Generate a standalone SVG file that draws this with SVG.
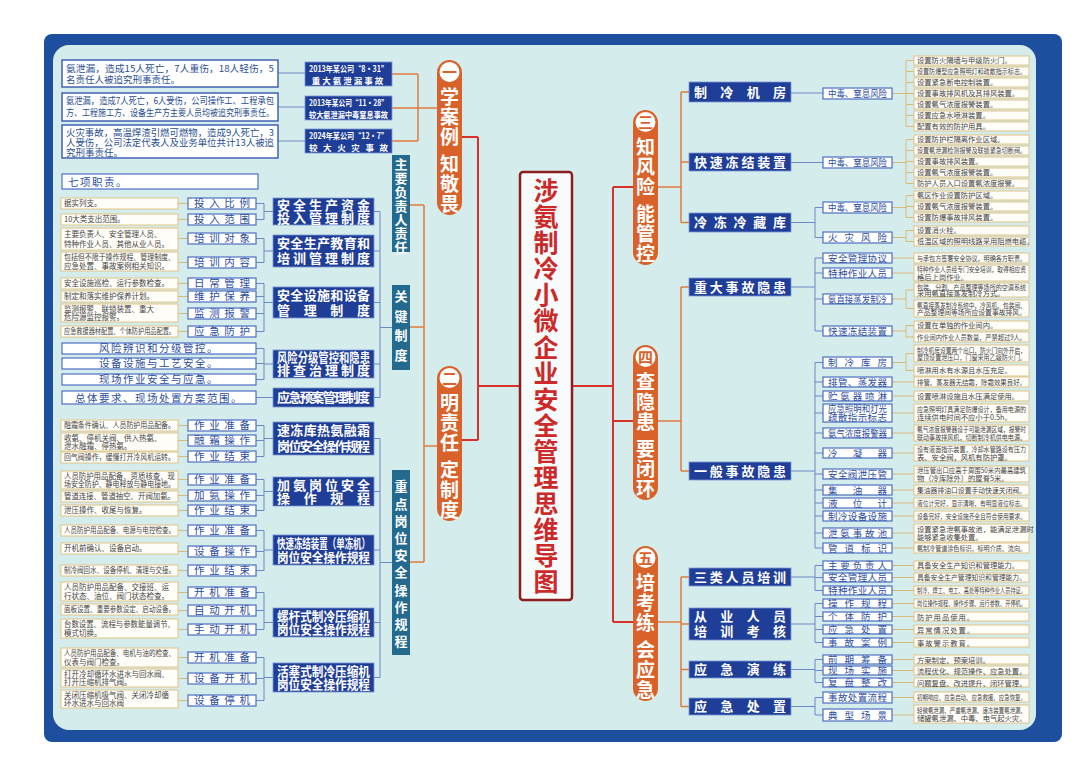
<svg xmlns="http://www.w3.org/2000/svg" width="1080" height="772" viewBox="0 0 1080 772">
<style>
text{font-family:"Noto Sans CJK SC","Noto Sans",sans-serif}
.v{writing-mode:vertical-rl;text-anchor:start}
.mb{fill:#1f3e97;stroke:#7a97d6;stroke-width:.8}
.mt{fill:#fff;font-size:13px;font-weight:700}
.sb{fill:#fff;stroke:#4d6ec2;stroke-width:1.2}
.st{fill:#2c4da0;font-size:10.5px}
.rs{fill:#2c4da0;font-size:9.5px}
.lb{fill:#fffdf8;stroke:#e2c487;stroke-width:1}
.lt{fill:#444;font-size:7.5px}
.rt{fill:#444;font-size:7.3px}
.cb{fill:#fff;stroke:#4262b3;stroke-width:1.5}
.ct{fill:#2a4f92;font-size:9.5px}
.cht{fill:#fff;font-size:8.5px;font-weight:700}
.tb{fill:#236a8e}
.tt{fill:#fff;font-size:13px;font-weight:700}
.pl{fill:#d9622a}
.pt{fill:#fff;font-size:19px;font-weight:700;letter-spacing:1px}
.pn{fill:#d9622a;font-size:15px;font-weight:700}
.wt{fill:#2c4da0;font-size:10.5px;letter-spacing:1.5px}
.cn{fill:none;stroke:#6d88c2;stroke-width:1}
.tn{fill:none;stroke:#d8b978;stroke-width:1}
.on{fill:none;stroke:#e07b3c;stroke-width:1.5}
.rn{fill:none;stroke:#d9302a;stroke-width:2}
</style>
<rect x="0" y="0" width="1080" height="772" fill="#fff"/>
<rect x="44" y="34" width="1018" height="708" rx="8" fill="#1d4f9e"/>
<rect x="53" y="45" width="983" height="685" rx="16" fill="#d5ecec"/>

<g id="connectors">
<path class="rn" d="M520,386 H478 M478,137 V440 M478,137 H462 M478,440 H462"/>
<path class="rn" d="M572,386 H613 M613,187 V622 M613,187 H633 M613,421 H633 M613,622 H633"/>
<path class="on" d="M437,108 H418 M418,74 V141 M418,74 H392 M418,108 H392 M418,141 H392"/>
<path class="cn" d="M278,73 H305 M278,107 H305 M278,141 H305"/>
<path class="on" d="M437,446 H424 M424,205 V562 M424,205 H410 M424,327 H410 M424,562 H410"/>
<path class="on" d="M657,187 H681 M681,92 V222.5 M681,92 H689 M681,162 H689 M681,222.5 H689"/>
<path class="on" d="M657,421 H681 M681,287 V471 M681,287 H689 M681,471 H689"/>
<path class="on" d="M657,622 H681 M681,577 V706.5 M681,577 H689 M681,624 H689 M681,669.5 H689 M681,706.5 H689"/>
<path class="cn" d="M392,327.5 H380 M380,211.5 V397.5 M380,211.5 H374 M380,251 H374 M380,302.5 H374 M380,364 H374 M380,397.5 H374"/>
<path class="cn" d="M392,562.5 H380 M380,438.5 V677.5 M380,438.5 H374 M380,491.5 H374 M380,550 H374 M380,622.5 H374 M380,677.5 H374"/>
<path class="cn" d="M273,211.5 H264 M264,203.5 V219.5 M264,203.5 H256 M264,219.5 H256
M273,251 H264 M264,238.5 V262.5 M264,238.5 H256 M264,262.5 H256
M273,302.5 H264 M264,283.5 V331.5 M264,283.5 H256 M264,296.5 H256 M264,313.5 H256 M264,331.5 H256
M273,364 H264 M264,348.5 V379.5 M264,348.5 H256 M264,363.5 H256 M264,379.5 H256
M273,397.5 H256
M273,438.5 H264 M264,425.5 V456.5 M264,425.5 H256 M264,440.5 H256 M264,456.5 H256
M273,491.5 H264 M264,479.5 V510.5 M264,479.5 H256 M264,495.5 H256 M264,510.5 H256
M273,550 H264 M264,530.5 V570.5 M264,530.5 H256 M264,551.5 H256 M264,570.5 H256
M273,622.5 H264 M264,592.5 V629.5 M264,592.5 H256 M264,610.5 H256 M264,629.5 H256
M273,677.5 H264 M264,657.5 V700.5 M264,657.5 H256 M264,678.5 H256 M264,700.5 H256"/>
<path class="tn" d="M178,203.5 H188 M178,219.5 H188 M178,238.5 H188 M178,262.5 H188 M178,283.5 H188 M178,296.5 H188 M178,313.5 H188 M178,331.5 H188 M178,425.5 H188 M178,440.5 H188 M178,456.5 H188 M178,479.5 H188 M178,495.5 H188 M178,510.5 H188 M178,530.5 H188 M178,551.5 H188 M178,570.5 H188 M178,592.5 H188 M178,610.5 H188 M178,629.5 H188 M178,657.5 H188 M178,678.5 H188 M178,700.5 H188"/>
<path class="cn" d="M791,93 H823 M791,162.5 H823
M791,222.5 H815 M815,207.5 V237.5 M815,207.5 H823 M815,237.5 H823
M791,287 H815 M815,258 V331 M815,258 H823 M815,273 H823 M815,299 H823 M815,331 H823
M791,471 H815 M815,362.5 V548 M815,362.5 H823 M815,382 H823 M815,396 H823 M815,413 H823 M815,433 H823 M815,453 H823 M815,474 H823 M815,490 H823 M815,503 H823 M815,516 H823 M815,533 H823 M815,548 H823
M791,577 H815 M815,565.5 V590.5 M815,565.5 H823 M815,577.5 H823 M815,590.5 H823
M791,624 H815 M815,603.5 V642.5 M815,603.5 H823 M815,616.5 H823 M815,629.5 H823 M815,642.5 H823
M791,669.5 H815 M815,659.5 V682.5 M815,659.5 H823 M815,670.5 H823 M815,682.5 H823
M791,706.5 H815 M815,697.5 V715 M815,697.5 H823 M815,715 H823"/>
<path class="tn" d="M892,93.5 H906 M906,60.5 V126.5 M906,60.5 H914 M906,71.5 H914 M906,82.5 H914 M906,93.5 H914 M906,104.5 H914 M906,115.5 H914 M906,126.5 H914
M892,162.5 H906 M906,139.5 V183.5 M906,139.5 H914 M906,150.5 H914 M906,161.5 H914 M906,172.5 H914 M906,183.5 H914
M892,207.5 H906 M906,195.5 V217.5 M906,195.5 H914 M906,206.5 H914 M906,217.5 H914
M892,237.5 H906 M906,230.5 V241.5 M906,230.5 H914 M906,241.5 H914
M892,258 H914 M892,273 H914
M892,299 H906 M906,290 V308.5 M906,290 H914 M906,308.5 H914
M892,331 H906 M906,325.5 V337 M906,325.5 H914 M906,337 H914
M892,362.5 H906 M906,353.5 V370.5 M906,353.5 H914 M906,370.5 H914
M892,382 H914 M892,396 H914 M892,413 H914 M892,433 H914 M892,453 H914 M892,474 H914 M892,490 H914 M892,503 H914 M892,516 H914 M892,533 H914 M892,548 H914
M892,565.5 H914 M892,577.5 H914 M892,590.5 H914
M892,603.5 H914 M892,616.5 H914 M892,629.5 H914 M892,642.5 H914
M892,659.5 H914 M892,670.5 H914 M892,682.5 H914
M892,697.5 H914 M892,715 H914"/>
</g>

<g id="title">
<rect x="520" y="172" width="52" height="428" rx="3" fill="#f7fbfb" stroke="#8e1e1e" stroke-width="2.5"/>
<text class="v" x="546" y="178" fill="#cc2a2a" font-size="25" font-weight="700" letter-spacing="1.1">涉氨制冷小微企业安全管理思维导图</text>
</g>

<g id="pill1">
<rect class="pl" x="437" y="60" width="25" height="155" rx="12.5"/>
<circle cx="449.5" cy="72" r="10" fill="#fff"/>
<text class="pn" x="449.5" y="77.5" text-anchor="middle">一</text>
<text class="pt v" x="449.5" y="87">学案例</text>
<text class="pt v" x="449.5" y="154">知敬畏</text>
</g>
<g id="pill2">
<rect class="pl" x="437" y="366" width="25" height="155" rx="12.5"/>
<circle cx="449.5" cy="378" r="10" fill="#fff"/>
<text class="pn" x="449.5" y="383.5" text-anchor="middle">二</text>
<text class="pt v" x="449.5" y="393">明责任</text>
<text class="pt v" x="449.5" y="460">定制度</text>
</g>
<g id="pill3">
<rect class="pl" x="633" y="110" width="25" height="155" rx="12.5"/>
<circle cx="645.5" cy="122" r="10" fill="#fff"/>
<text class="pn" x="645.5" y="127.5" text-anchor="middle">三</text>
<text class="pt v" x="645.5" y="137">知风险</text>
<text class="pt v" x="645.5" y="204">能管控</text>
</g>
<g id="pill4">
<rect class="pl" x="633" y="345" width="25" height="155" rx="12.5"/>
<circle cx="645.5" cy="357" r="10" fill="#fff"/>
<text class="pn" x="645.5" y="362.5" text-anchor="middle">四</text>
<text class="pt v" x="645.5" y="372">查隐患</text>
<text class="pt v" x="645.5" y="439">要闭环</text>
</g>
<g id="pill5">
<rect class="pl" x="633" y="546" width="25" height="155" rx="12.5"/>
<circle cx="645.5" cy="558" r="10" fill="#fff"/>
<text class="pn" x="645.5" y="563.5" text-anchor="middle">五</text>
<text class="pt v" x="645.5" y="573">培考练</text>
<text class="pt v" x="645.5" y="640">会应急</text>
</g>

<g id="cases">
<rect class="cb" x="62" y="60" width="216" height="27"/>
<text class="ct" x="66" y="71.5" textLength="208" lengthAdjust="spacingAndGlyphs">氨泄漏，造成15人死亡，7人重伤，18人轻伤，5</text>
<text class="ct" x="66" y="83">名责任人被追究刑事责任。</text>
<rect class="cb" x="62" y="93" width="216" height="28"/>
<text class="ct" x="66" y="104" font-size="8.8" textLength="208" lengthAdjust="spacingAndGlyphs">氨泄漏，造成7人死亡，6人受伤，公司操作工、工程承包</text>
<text class="ct" x="66" y="116" font-size="8.8" textLength="208" lengthAdjust="spacingAndGlyphs">方、工程施工方、设备生产方主要人员均被追究刑事责任。</text>
<rect class="cb" x="62" y="125" width="216" height="33"/>
<text class="ct" x="66" y="135.5" textLength="208" lengthAdjust="spacingAndGlyphs">火灾事故，高温焊渣引燃可燃物，造成9人死亡，3</text>
<text class="ct" x="66" y="146" textLength="208" lengthAdjust="spacingAndGlyphs">人受伤，公司法定代表人及业务单位共计13人被追</text>
<text class="ct" x="66" y="156">究刑事责任。</text>
<rect class="mb" x="305" y="62" width="87" height="24"/>
<text class="cht" x="309" y="72" textLength="79" lengthAdjust="spacingAndGlyphs">2013年某公司“8·31”</text>
<text class="cht" x="348.5" y="83.5" text-anchor="middle" letter-spacing="2">重大氨泄漏事故</text>
<rect class="mb" x="305" y="96" width="87" height="24"/>
<text class="cht" x="309" y="106" textLength="79" lengthAdjust="spacingAndGlyphs">2013年某公司“11·28”</text>
<text class="cht" x="309" y="117.5" textLength="79" lengthAdjust="spacingAndGlyphs">较大氨泄漏中毒窒息事故</text>
<rect class="mb" x="305" y="129" width="87" height="24"/>
<text class="cht" x="309" y="139" textLength="79" lengthAdjust="spacingAndGlyphs">2024年某公司“12·7”</text>
<text class="cht" x="309" y="150.5" textLength="79">较大火灾事故</text>
</g>

<g id="duty">
<rect class="tb" x="392" y="155" width="18" height="97"/>
<text class="tt v" x="401" y="158" font-size="12.5" letter-spacing=".8">主要负责人责任</text>
<rect class="sb" x="62" y="174" width="196" height="15"/>
<text class="wt" x="68" y="185.5" letter-spacing="4">七项职责。</text>
</g>

<g id="keysys">
<rect class="tb" x="392" y="285" width="18" height="85"/>
<text class="tt v" x="401" y="290" letter-spacing="6.5">关键制度</text>
</g>

<g id="m1">
<rect class="mb" x="273" y="198" width="101" height="27"/>
<text class="mt" x="277" y="210" textLength="93">安全生产资金</text>
<text class="mt" x="277" y="223" textLength="93">投入管理制度</text>
<rect class="sb" x="188" y="198" width="68" height="11"/><text class="st" x="194" y="207.3" textLength="56">投入比例</text>
<rect class="sb" x="188" y="214" width="68" height="11"/><text class="st" x="194" y="223.3" textLength="56">投入范围</text>
<rect class="lb" x="61" y="198" width="117" height="11"/><text class="lt" x="64" y="206.3">据实列支。</text>
<rect class="lb" x="61" y="214" width="117" height="11"/><text class="lt" x="64" y="222.3">10大类支出范围。</text>
</g>
<g id="m2">
<rect class="mb" x="273" y="235" width="101" height="32"/>
<text class="mt" x="277" y="248" textLength="93">安全生产教育和</text>
<text class="mt" x="277" y="263" textLength="93">培训管理制度</text>
<rect class="sb" x="188" y="233" width="68" height="11"/><text class="st" x="194" y="242.3" textLength="56">培训对象</text>
<rect class="sb" x="188" y="257" width="68" height="11"/><text class="st" x="194" y="266.3" textLength="56">培训内容</text>
<rect class="lb" x="61" y="228" width="117" height="22"/><text class="lt" x="64" y="237">主要负责人、安全管理人员、</text><text class="lt" x="64" y="246.5">特种作业人员、其他从业人员。</text>
<rect class="lb" x="61" y="252" width="117" height="19"/><text class="lt" x="64" y="260" textLength="111" lengthAdjust="spacingAndGlyphs">包括但不限于操作规程、管理制度、</text><text class="lt" x="64" y="268.5">应急处置、事故案例相关知识。</text>
</g>
<g id="m3">
<rect class="mb" x="273" y="287" width="101" height="31"/>
<text class="mt" x="277" y="300" textLength="93">安全设施和设备</text>
<text class="mt" x="277" y="315" textLength="93">管理制度</text>
<rect class="sb" x="188" y="278" width="68" height="11"/><text class="st" x="194" y="287.3" textLength="56">日常管理</text>
<rect class="sb" x="188" y="291" width="68" height="11"/><text class="st" x="194" y="300.3" textLength="56">维护保养</text>
<rect class="sb" x="188" y="308" width="68" height="11"/><text class="st" x="194" y="317.3" textLength="56">监测报警</text>
<rect class="sb" x="188" y="326" width="68" height="11"/><text class="st" x="194" y="335.3" textLength="56">应急防护</text>
<rect class="lb" x="61" y="278" width="117" height="11"/><text class="lt" x="64" y="286.3">安全设施巡检、运行参数检查。</text>
<rect class="lb" x="61" y="291" width="117" height="11"/><text class="lt" x="64" y="299.3">制定和落实维护保养计划。</text>
<rect class="lb" x="61" y="304" width="117" height="18"/><text class="lt" x="64" y="312">监测报警、联锁装置、重大</text><text class="lt" x="64" y="320">危险源监控报警。</text>
<rect class="lb" x="61" y="326" width="117" height="11"/><text class="lt" x="64" y="334.3" textLength="111" lengthAdjust="spacingAndGlyphs">应急救援器材配置、个体防护用品配置。</text>
</g>
<g id="m4">
<rect class="mb" x="273" y="350" width="101" height="28"/>
<text class="mt" x="277" y="362" font-size="11.5" textLength="93" lengthAdjust="spacingAndGlyphs">风险分级管控和隐患</text>
<text class="mt" x="277" y="375" font-size="12" textLength="93">排查治理制度</text>
<rect class="sb" x="62" y="343" width="194" height="11"/><text class="wt" x="159" y="352.3" text-anchor="middle">风险辨识和分级管控。</text>
<rect class="sb" x="62" y="358" width="194" height="11"/><text class="wt" x="159" y="367.3" text-anchor="middle">设备设施与工艺安全。</text>
<rect class="sb" x="62" y="374" width="194" height="11"/><text class="wt" x="159" y="383.3" text-anchor="middle">现场作业安全与应急。</text>
</g>
<g id="m5">
<rect class="mb" x="273" y="388" width="101" height="19"/>
<text class="mt" x="277" y="401.5" font-size="11.5" textLength="93">应急预案管理制度</text>
<rect class="sb" x="62" y="391" width="194" height="13"/><text class="wt" x="159" y="401.5" text-anchor="middle">总体要求、现场处置方案范围。</text>
</g>

<g id="keypost">
<rect class="tb" x="392" y="470" width="18" height="185"/>
<text class="tt v" x="401" y="480" letter-spacing="4.2">重点岗位安全操作规程</text>
</g>
<g id="m6">
<rect class="mb" x="273" y="422" width="101" height="33"/>
<text class="mt" x="277" y="435" textLength="93">速冻库热氨融霜</text>
<text class="mt" x="277" y="451" textLength="93">岗位安全操作规程</text>
<rect class="sb" x="188" y="420" width="68" height="11"/><text class="st" x="194" y="429.3" textLength="56">作业准备</text>
<rect class="sb" x="188" y="435" width="68" height="11"/><text class="st" x="194" y="444.3" textLength="56">融霜操作</text>
<rect class="sb" x="188" y="451" width="68" height="11"/><text class="st" x="194" y="460.3" textLength="56">作业结束</text>
<rect class="lb" x="61" y="420" width="117" height="11"/><text class="lt" x="64" y="428.3" textLength="111" lengthAdjust="spacingAndGlyphs">融霜条件确认、人员防护用品配备。</text>
<rect class="lb" x="61" y="433" width="117" height="18"/><text class="lt" x="64" y="441">收氨、停机关阀、供入热氨、</text><text class="lt" x="64" y="449">泄水融霜、停热氨。</text>
<rect class="lb" x="61" y="452" width="117" height="11"/><text class="lt" x="64" y="460.3" textLength="111" lengthAdjust="spacingAndGlyphs">回气阀操作，缓慢打开冷风机运转。</text>
</g>
<g id="m7">
<rect class="mb" x="273" y="477" width="101" height="29"/>
<text class="mt" x="277" y="489.5" textLength="93">加氨岗位安全</text>
<text class="mt" x="277" y="503" textLength="93">操作规程</text>
<rect class="sb" x="188" y="474" width="68" height="11"/><text class="st" x="194" y="483.3" textLength="56">作业准备</text>
<rect class="sb" x="188" y="490" width="68" height="11"/><text class="st" x="194" y="499.3" textLength="56">加氨操作</text>
<rect class="sb" x="188" y="505" width="68" height="11"/><text class="st" x="194" y="514.3" textLength="56">作业结束</text>
<rect class="lb" x="61" y="471" width="117" height="18"/><text class="lt" x="64" y="479" textLength="111" lengthAdjust="spacingAndGlyphs">人员防护用品配备、资质核查、现</text><text class="lt" x="64" y="487" textLength="111" lengthAdjust="spacingAndGlyphs">场安全防护、静电释放与静电接地。</text>
<rect class="lb" x="61" y="491" width="117" height="11"/><text class="lt" x="64" y="499.3" textLength="111" lengthAdjust="spacingAndGlyphs">管道连接、管道抽空、开阀加氨。</text>
<rect class="lb" x="61" y="505" width="117" height="11"/><text class="lt" x="64" y="513.3">泄压操作、收尾与恢复。</text>
</g>
<g id="m8">
<rect class="mb" x="273" y="535" width="101" height="30"/>
<text class="mt" x="277" y="547.5" font-size="10" textLength="93" lengthAdjust="spacingAndGlyphs">快速冻结装置（单冻机）</text>
<text class="mt" x="277" y="561.5" font-size="12" textLength="93" lengthAdjust="spacingAndGlyphs">岗位安全操作规程</text>
<rect class="sb" x="188" y="525" width="68" height="11"/><text class="st" x="194" y="534.3" textLength="56">作业准备</text>
<rect class="sb" x="188" y="546" width="68" height="11"/><text class="st" x="194" y="555.3" textLength="56">设备操作</text>
<rect class="sb" x="188" y="565" width="68" height="11"/><text class="st" x="194" y="574.3" textLength="56">作业结束</text>
<rect class="lb" x="61" y="525" width="117" height="11"/><text class="lt" x="64" y="533.3" textLength="111" lengthAdjust="spacingAndGlyphs">人员防护用品配备、电源与电控检查。</text>
<rect class="lb" x="61" y="543" width="117" height="11"/><text class="lt" x="64" y="551.3">开机前确认、设备启动。</text>
<rect class="lb" x="61" y="565" width="117" height="11"/><text class="lt" x="64" y="573.3" textLength="111" lengthAdjust="spacingAndGlyphs">制冷阀回水、设备停机、清理与交接。</text>
</g>
<g id="m9">
<rect class="mb" x="273" y="608" width="101" height="29"/>
<text class="mt" x="277" y="620.5" font-size="12" textLength="93" lengthAdjust="spacingAndGlyphs">螺杆式制冷压缩机</text>
<text class="mt" x="277" y="634" font-size="12" textLength="93" lengthAdjust="spacingAndGlyphs">岗位安全操作规程</text>
<rect class="sb" x="188" y="587" width="68" height="11"/><text class="st" x="194" y="596.3" textLength="56">开机准备</text>
<rect class="sb" x="188" y="605" width="68" height="11"/><text class="st" x="194" y="614.3" textLength="56">自动开机</text>
<rect class="sb" x="188" y="624" width="68" height="11"/><text class="st" x="194" y="633.3" textLength="56">手动开机</text>
<rect class="lb" x="61" y="582" width="117" height="19"/><text class="lt" x="64" y="590">人员防护用品配备、交接班、运</text><text class="lt" x="64" y="598.5">行状态、油位、阀门状态检查。</text>
<rect class="lb" x="61" y="604" width="117" height="11"/><text class="lt" x="64" y="612.3" textLength="111" lengthAdjust="spacingAndGlyphs">面板设置、重要参数设定、启动设备。</text>
<rect class="lb" x="61" y="619" width="117" height="19"/><text class="lt" x="64" y="627" textLength="111" lengthAdjust="spacingAndGlyphs">台数设置、流程与参数能量调节、</text><text class="lt" x="64" y="635.5">模式切换。</text>
</g>
<g id="m10">
<rect class="mb" x="273" y="663" width="101" height="29"/>
<text class="mt" x="277" y="675.5" font-size="12" textLength="93" lengthAdjust="spacingAndGlyphs">活塞式制冷压缩机</text>
<text class="mt" x="277" y="689" font-size="12" textLength="93" lengthAdjust="spacingAndGlyphs">岗位安全操作规程</text>
<rect class="sb" x="188" y="652" width="68" height="11"/><text class="st" x="194" y="661.3" textLength="56">开机准备</text>
<rect class="sb" x="188" y="673" width="68" height="11"/><text class="st" x="194" y="682.3" textLength="56">设备开机</text>
<rect class="sb" x="188" y="695" width="68" height="11"/><text class="st" x="194" y="704.3" textLength="56">设备停机</text>
<rect class="lb" x="61" y="648" width="117" height="19"/><text class="lt" x="64" y="656" textLength="111" lengthAdjust="spacingAndGlyphs">人员防护用品配备、电机与油的检查、</text><text class="lt" x="64" y="664.5">仪表与阀门检查。</text>
<rect class="lb" x="61" y="669" width="117" height="18"/><text class="lt" x="64" y="677">打开冷却循环水进水与回水阀、</text><text class="lt" x="64" y="685">打开压缩机排气阀。</text>
<rect class="lb" x="61" y="690" width="117" height="18"/><text class="lt" x="64" y="698">关闭压缩机吸气阀、关闭冷却循</text><text class="lt" x="64" y="706">环水进水与回水阀</text>
</g>

<g id="r1">
<rect class="mb" x="689" y="82" width="102" height="20"/>
<text class="mt" x="694" y="96.5" textLength="92">制冷机房</text>
<rect class="sb" x="823" y="88" width="69" height="11"/><text class="rs" x="828" y="97" textLength="59" lengthAdjust="spacingAndGlyphs">中毒、窒息风险</text>
<rect class="lb" x="914" y="56" width="115" height="9"/><text class="rt" x="917" y="63">设置防火隔墙与甲级防火门。</text>
<rect class="lb" x="914" y="67" width="115" height="9"/><text class="rt" x="917" y="74" textLength="109" lengthAdjust="spacingAndGlyphs">设置防爆型应急照明灯和疏散指示标志。</text>
<rect class="lb" x="914" y="78" width="115" height="9"/><text class="rt" x="917" y="85">设置紧急断电控制装置。</text>
<rect class="lb" x="914" y="89" width="115" height="9"/><text class="rt" x="917" y="96">设置事故排风机及其排风装置。</text>
<rect class="lb" x="914" y="100" width="115" height="9"/><text class="rt" x="917" y="107">设置氨气浓度报警装置。</text>
<rect class="lb" x="914" y="111" width="115" height="9"/><text class="rt" x="917" y="118">设置应急水喷淋装置。</text>
<rect class="lb" x="914" y="122" width="115" height="9"/><text class="rt" x="917" y="129">配置有效的防护用具。</text>
</g>
<g id="r2">
<rect class="mb" x="689" y="153" width="102" height="18"/>
<text class="mt" x="694" y="166.5" textLength="92">快速冻结装置</text>
<rect class="sb" x="823" y="157" width="69" height="11"/><text class="rs" x="828" y="166" textLength="59" lengthAdjust="spacingAndGlyphs">中毒、窒息风险</text>
<rect class="lb" x="914" y="135" width="115" height="9"/><text class="rt" x="917" y="142">设置防护栏隔离作业区域。</text>
<rect class="lb" x="914" y="146" width="115" height="9"/><text class="rt" x="917" y="153" textLength="109" lengthAdjust="spacingAndGlyphs">设置氨泄漏检测报警及联锁紧急切断阀。</text>
<rect class="lb" x="914" y="157" width="115" height="9"/><text class="rt" x="917" y="164">设置事故排风装置。</text>
<rect class="lb" x="914" y="168" width="115" height="9"/><text class="rt" x="917" y="175">设置氨气浓度报警装置。</text>
<rect class="lb" x="914" y="179" width="115" height="9"/><text class="rt" x="917" y="186">防护人员入口设置氨浓度报警。</text>
</g>
<g id="r3">
<rect class="mb" x="689" y="213" width="102" height="19"/>
<text class="mt" x="694" y="227" textLength="92">冷冻冷藏库</text>
<rect class="sb" x="823" y="202" width="69" height="11"/><text class="rs" x="828" y="211" textLength="59" lengthAdjust="spacingAndGlyphs">中毒、窒息风险</text>
<rect class="sb" x="823" y="232" width="69" height="11"/><text class="rs" x="828" y="241" textLength="59">火灾风险</text>
<rect class="lb" x="914" y="191" width="115" height="9"/><text class="rt" x="917" y="198">氨区作业设置防护区域。</text>
<rect class="lb" x="914" y="202" width="115" height="9"/><text class="rt" x="917" y="209">设置氨气浓度报警装置。</text>
<rect class="lb" x="914" y="213" width="115" height="9"/><text class="rt" x="917" y="220">设置防爆事故排风装置。</text>
<rect class="lb" x="914" y="226" width="115" height="9"/><text class="rt" x="917" y="233">设置消火栓。</text>
<rect class="lb" x="914" y="237" width="115" height="9"/><text class="rt" x="917" y="244">低温区域的照明线路采用阻燃电缆。</text>
</g>
<g id="r4">
<rect class="mb" x="689" y="278" width="102" height="18"/>
<text class="mt" x="694" y="291.5" textLength="92">重大事故隐患</text>
<rect class="sb" x="823" y="253" width="69" height="10"/><text class="rs" x="828" y="261.5" textLength="59">安全管理协议</text>
<rect class="sb" x="823" y="268" width="69" height="10"/><text class="rs" x="828" y="276.5" textLength="59">特种作业人员</text>
<rect class="sb" x="823" y="294" width="69" height="10"/><text class="rs" x="828" y="302.5" textLength="59" lengthAdjust="spacingAndGlyphs">氨直接蒸发制冷</text>
<rect class="sb" x="823" y="326" width="69" height="10"/><text class="rs" x="828" y="334.5" textLength="59">快速冻结装置</text>
<rect class="lb" x="914" y="253" width="115" height="10"/><text class="rt" x="917" y="260.5" textLength="109" lengthAdjust="spacingAndGlyphs">与承包方签署安全协议，明确各方职责。</text>
<rect class="lb" x="914" y="265" width="115" height="16"/><text class="rt" x="917" y="272" textLength="109" lengthAdjust="spacingAndGlyphs">特种作业人员经专门安全培训，取得相应资</text><text class="rt" x="917" y="279.5">格后上岗作业。</text>
<rect class="lb" x="914" y="283" width="115" height="14"/><text class="rt" x="917" y="289.5" textLength="109" lengthAdjust="spacingAndGlyphs">包装、分割、产品整理等场所的空调系统</text><text class="rt" x="917" y="296">采用氨直接蒸发制冷方式。</text>
<rect class="lb" x="914" y="300" width="115" height="17"/><text class="rt" x="917" y="307.5" textLength="109" lengthAdjust="spacingAndGlyphs">氨直接蒸发制冷系统中，冷风机、包装间、</text><text class="rt" x="917" y="315" textLength="109" lengthAdjust="spacingAndGlyphs">产品整理间等场所应设置事故排风。</text>
<rect class="lb" x="914" y="321" width="115" height="9"/><text class="rt" x="917" y="328">设置在单独的作业间内。</text>
<rect class="lb" x="914" y="332" width="115" height="10"/><text class="rt" x="917" y="339.5" textLength="109" lengthAdjust="spacingAndGlyphs">作业间内作业人员数量，严禁超过9人。</text>
</g>
<g id="r5">
<rect class="mb" x="689" y="462" width="102" height="18"/>
<text class="mt" x="694" y="475.5" textLength="92">一般事故隐患</text>
<rect class="sb" x="823" y="357" width="69" height="11"/><text class="rs" x="828" y="366" textLength="59">制冷库房</text>
<rect class="sb" x="823" y="377" width="69" height="10"/><text class="rs" x="828" y="385.5" textLength="59">排管、蒸发器</text>
<rect class="sb" x="823" y="391" width="69" height="10"/><text class="rs" x="828" y="399.5" textLength="59">贮氨器喷淋</text>
<rect class="sb" x="823" y="404" width="69" height="18"/><text class="rs" x="828" y="412" font-size="8.5" textLength="59" lengthAdjust="spacingAndGlyphs">应急照明和灯光</text><text class="rs" x="828" y="420.5" font-size="8.5" textLength="59">疏散指示标志</text>
<rect class="sb" x="823" y="428" width="69" height="10"/><text class="rs" x="828" y="436.5" textLength="59" lengthAdjust="spacingAndGlyphs">氨气浓度报警器</text>
<rect class="sb" x="823" y="448" width="69" height="10"/><text class="rs" x="828" y="456.5" textLength="59">冷凝器</text>
<rect class="sb" x="823" y="469" width="69" height="10"/><text class="rs" x="828" y="477.5" textLength="59">安全阀泄压管</text>
<rect class="sb" x="823" y="485" width="69" height="10"/><text class="rs" x="828" y="493.5" textLength="59">集油器</text>
<rect class="sb" x="823" y="498" width="69" height="10"/><text class="rs" x="828" y="506.5" textLength="59">液位计</text>
<rect class="sb" x="823" y="511" width="69" height="10"/><text class="rs" x="828" y="519.5" textLength="59">制冷设备设施</text>
<rect class="sb" x="823" y="528" width="69" height="10"/><text class="rs" x="828" y="536.5" textLength="59">泄氨事故池</text>
<rect class="sb" x="823" y="543" width="69" height="10"/><text class="rs" x="828" y="551.5" textLength="59">管道标识</text>
<rect class="lb" x="914" y="345" width="115" height="17"/><text class="rt" x="917" y="352.5" textLength="109" lengthAdjust="spacingAndGlyphs">制冷机房设置两个出口，防火门向外开启，</text><text class="rt" x="917" y="360" textLength="109" lengthAdjust="spacingAndGlyphs">屋顶设置泄压口，门窗采用乙级防火门。</text>
<rect class="lb" x="914" y="365" width="115" height="11"/><text class="rt" x="917" y="373">喷淋用水有水源且水压充足。</text>
<rect class="lb" x="914" y="377" width="115" height="10"/><text class="rt" x="917" y="384.5" textLength="109" lengthAdjust="spacingAndGlyphs">排管、蒸发器无结霜，除霜效果良好。</text>
<rect class="lb" x="914" y="391" width="115" height="10"/><text class="rt" x="917" y="398.5">设置喷淋设施且水压满足使用。</text>
<rect class="lb" x="914" y="404" width="115" height="18"/><text class="rt" x="917" y="411.5" textLength="109" lengthAdjust="spacingAndGlyphs">应急照明灯具满足防爆设计，备用电源的</text><text class="rt" x="917" y="419.5">连续供电时间不应小于0.5h。</text>
<rect class="lb" x="914" y="425" width="115" height="16"/><text class="rt" x="917" y="432" textLength="109" lengthAdjust="spacingAndGlyphs">氨气浓度报警器设于可能泄漏区域，报警时</text><text class="rt" x="917" y="439.5" textLength="109" lengthAdjust="spacingAndGlyphs">联动事故排风机，切断制冷机供电电源。</text>
<rect class="lb" x="914" y="445" width="115" height="16"/><text class="rt" x="917" y="452" textLength="109" lengthAdjust="spacingAndGlyphs">设有液面指示装置，冷却水管路设有压力</text><text class="rt" x="917" y="459.5">表、安全阀，风机有防护罩。</text>
<rect class="lb" x="914" y="466" width="115" height="16"/><text class="rt" x="917" y="473" textLength="109" lengthAdjust="spacingAndGlyphs">泄压管出口应高于周围50米内最高建筑</text><text class="rt" x="917" y="480.5">物（冷库除外）的屋脊5米。</text>
<rect class="lb" x="914" y="485" width="115" height="10"/><text class="rt" x="917" y="492.5" textLength="109" lengthAdjust="spacingAndGlyphs">集油器排油口设置手动快速关闭阀。</text>
<rect class="lb" x="914" y="498" width="115" height="10"/><text class="rt" x="917" y="505.5" textLength="109" lengthAdjust="spacingAndGlyphs">液位计完好，显示清晰，有明显液位标志。</text>
<rect class="lb" x="914" y="511" width="115" height="10"/><text class="rt" x="917" y="518.5" textLength="109" lengthAdjust="spacingAndGlyphs">设备完好，安全设施齐全且符合使用要求。</text>
<rect class="lb" x="914" y="524" width="115" height="18"/><text class="rt" x="917" y="531.5">设置紧急泄氨事故池，能满足泄漏时</text><text class="rt" x="917" y="539.5">能够紧急收集处置。</text>
<rect class="lb" x="914" y="543" width="115" height="10"/><text class="rt" x="917" y="550.5" textLength="109" lengthAdjust="spacingAndGlyphs">氨制冷管道涂色标识，标明介质、流向。</text>
</g>
<g id="r6">
<rect class="mb" x="689" y="568" width="102" height="18"/>
<text class="mt" x="694" y="581.5" textLength="92">三类人员培训</text>
<rect class="sb" x="823" y="561" width="69" height="9"/><text class="rs" x="828" y="569" textLength="59">主要负责人</text>
<rect class="sb" x="823" y="573" width="69" height="9"/><text class="rs" x="828" y="581" textLength="59">安全管理人员</text>
<rect class="sb" x="823" y="586" width="69" height="9"/><text class="rs" x="828" y="594" textLength="59">特种作业人员</text>
<rect class="lb" x="914" y="561" width="115" height="9"/><text class="rt" x="917" y="568.2">具备安全生产知识和管理能力。</text>
<rect class="lb" x="914" y="573" width="115" height="9"/><text class="rt" x="917" y="580.2" textLength="109" lengthAdjust="spacingAndGlyphs">具备安全生产管理知识和管理能力。</text>
<rect class="lb" x="914" y="586" width="115" height="9"/><text class="rt" x="917" y="593.2" textLength="109" lengthAdjust="spacingAndGlyphs">制冷、焊工、电工、高处等特种作业人员持证。</text>
</g>
<g id="r7">
<rect class="mb" x="689" y="608" width="102" height="32"/>
<text class="mt" x="694" y="621" textLength="92">从业人员</text>
<text class="mt" x="694" y="636" textLength="92">培训考核</text>
<rect class="sb" x="823" y="599" width="69" height="9"/><text class="rs" x="828" y="607" textLength="59">操作规程</text>
<rect class="sb" x="823" y="612" width="69" height="9"/><text class="rs" x="828" y="620" textLength="59">个体防护</text>
<rect class="sb" x="823" y="625" width="69" height="9"/><text class="rs" x="828" y="633" textLength="59">应急处置</text>
<rect class="sb" x="823" y="638" width="69" height="9"/><text class="rs" x="828" y="646" textLength="59">事故案例</text>
<rect class="lb" x="914" y="599" width="115" height="9"/><text class="rt" x="917" y="606.2" textLength="109" lengthAdjust="spacingAndGlyphs">岗位操作规程、操作步骤、运行参数、开停机。</text>
<rect class="lb" x="914" y="612" width="115" height="9"/><text class="rt" x="917" y="619.5" font-size="8.5" letter-spacing="1">防护用品使用。</text>
<rect class="lb" x="914" y="625" width="115" height="9"/><text class="rt" x="917" y="632.5" font-size="8.5" letter-spacing="1">异常情况处置。</text>
<rect class="lb" x="914" y="638" width="115" height="9"/><text class="rt" x="917" y="645.5" font-size="8.5" letter-spacing="1">事故警示教育。</text>
</g>
<g id="r8">
<rect class="mb" x="689" y="661" width="102" height="17"/>
<text class="mt" x="694" y="674" textLength="92">应急演练</text>
<rect class="sb" x="823" y="655" width="69" height="9"/><text class="rs" x="828" y="663" textLength="59">前期筹备</text>
<rect class="sb" x="823" y="666" width="69" height="9"/><text class="rs" x="828" y="674" textLength="59">现场实施</text>
<rect class="sb" x="823" y="678" width="69" height="9"/><text class="rs" x="828" y="686" textLength="59">复盘整改</text>
<rect class="lb" x="914" y="655" width="115" height="9"/><text class="rt" x="917" y="662.5" font-size="8">方案制定、预案培训。</text>
<rect class="lb" x="914" y="666" width="115" height="9"/><text class="rt" x="917" y="673.5" font-size="8">流程优化、规范操作、应急处置。</text>
<rect class="lb" x="914" y="678" width="115" height="9"/><text class="rt" x="917" y="685.5" font-size="8">问题复盘、改进提升、闭环管理。</text>
</g>
<g id="r9">
<rect class="mb" x="689" y="698" width="102" height="17"/>
<text class="mt" x="694" y="711" textLength="92">应急处置</text>
<rect class="sb" x="823" y="692" width="69" height="11"/><text class="rs" x="828" y="701" textLength="59">事故处置流程</text>
<rect class="sb" x="823" y="709" width="69" height="12"/><text class="rs" x="828" y="718.5" textLength="59">典型场景</text>
<rect class="lb" x="914" y="692" width="115" height="10"/><text class="rt" x="917" y="699.5" textLength="109" lengthAdjust="spacingAndGlyphs">初期响应、应急启动、应急救援、应急恢复。</text>
<rect class="lb" x="914" y="705" width="115" height="18"/><text class="rt" x="917" y="712.5" textLength="109" lengthAdjust="spacingAndGlyphs">轻微氨泄漏、严重氨泄漏、速冻装置氨泄漏、</text><text class="rt" x="917" y="720.5">储罐氨泄漏、中毒、电气起火灾。</text>
</g>
</svg>
